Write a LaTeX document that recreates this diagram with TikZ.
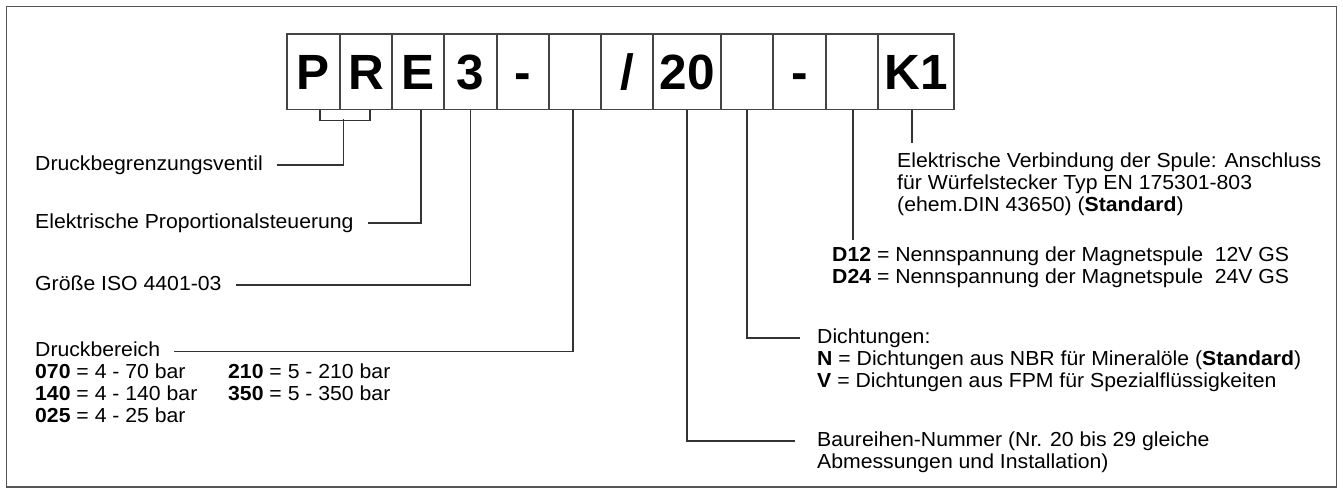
\documentclass[tikz,border=0pt]{standalone}
\usepackage{fontspec}
\setmainfont{Liberation Sans}
\newfontfamily\lblfont{Liberation Sans}[FakeStretch=1.045]
\definecolor{lnc}{HTML}{333333}
\definecolor{framec}{HTML}{555555}
\definecolor{boxc}{HTML}{444444}
\begin{document}
\begin{tikzpicture}[x=1pt,y=-1pt,
  cell/.style={draw=boxc, line width=1.3pt, minimum height=75.5pt, inner sep=0pt,
    text height=35.5pt, text depth=0pt, font=\bfseries\fontsize{49.5}{49.5}\selectfont},
  lbl/.style={anchor=base west, inner sep=0pt, text height=10pt, text depth=0pt,
    font=\lblfont\fontsize{20.3}{22}\selectfont},
  conn/.style={draw=lnc, line width=1.2pt}]
\useasboundingbox (0,0) rectangle (1343,492);
\draw[framec, line width=1.3pt] (6.5,6.5) rectangle (1336.5,487);
% code boxes
\node[cell, minimum width=53pt] (b1)  at (313.5,71.75) {P};
\node[cell, minimum width=52pt] (b2)  at (366,71.75) {R};
\node[cell, minimum width=52pt] (b3)  at (418,71.75) {E};
\node[cell, minimum width=53pt] (b4)  at (470.5,71.75) {3};
\node[cell, minimum width=52pt] (b5)  at (523,71.75) {-};
\node[cell, minimum width=52pt] (b6)  at (575,71.75) {};
\node[cell, minimum width=52pt] (b7)  at (627,71.75) {/};
\node[cell, minimum width=68pt] (b8)  at (687,71.75) {20};
\node[cell, minimum width=52pt] (b9)  at (747,71.75) {};
\node[cell, minimum width=53pt] (b10) at (799.5,71.75) {-};
\node[cell, minimum width=52pt] (b11) at (852,71.75) {};
\node[cell, minimum width=76pt] (b12) at (916,71.75) {K1};
% left labels
\node[lbl] (t1) at (35,170) {Druckbegrenzungsventil};
\node[lbl] (t2) at (35,228) {Elektrische Proportionalsteuerung};
\node[lbl] (t3) at (35,290) {Größe ISO 4401-03};
\node[lbl] (t4) at (35,356.5) {Druckbereich};
\node[lbl] (r1a) at (35,378.5) {\textbf{070} = 4 - 70 bar};
\node[lbl] (r1b) at (228,378.5) {\textbf{210} = 5 - 210 bar};
\node[lbl] (r2a) at (35,400.5) {\textbf{140} = 4 - 140 bar};
\node[lbl] (r2b) at (228,400.5) {\textbf{350} = 5 - 350 bar};
\node[lbl] (r3) at (35,422.5) {\textbf{025} = 4 - 25 bar};
% right labels
\node[lbl] (k1) at (897,167.5) {Elektrische Verbindung der Spule: Anschluss};
\node[lbl] (k2) at (897,189.5) {für Würfelstecker Typ EN 175301-803};
\node[lbl] (k3) at (897,211.5) {(ehem.DIN 43650) (\textbf{Standard})};
\node[lbl] (d1) at (832,261.5) {\textbf{D12} = Nennspannung der Magnetspule\ \ 12V GS};
\node[lbl] (d2) at (832,283.5) {\textbf{D24} = Nennspannung der Magnetspule\ \ 24V GS};
\node[lbl] (s1) at (817,343) {Dichtungen:};
\node[lbl] (s2) at (817,365) {\textbf{N} = Dichtungen aus NBR für Mineralöle (\textbf{Standard})};
\node[lbl] (s3) at (817,387.5) {\textbf{V} = Dichtungen aus FPM für Spezialflüssigkeiten};
\node[lbl] (u1) at (817,446) {Baureihen-Nummer (Nr. 20 bis 29 gleiche};
\node[lbl] (u2) at (817,468) {Abmessungen und Installation)};
% connectors
\coordinate (brk) at (343.3,119.5);
\draw[conn] ([xshift=6.5pt]b1.south) -- ++(0,10) -| ([xshift=4pt]b2.south);
\draw[conn] (brk) |- ([xshift=14pt]t1.east);
\draw[conn] ([xshift=3pt]b3.south) |- ([xshift=14pt]t2.east);
\draw[conn] (b4.south) |- ([xshift=14pt]t3.east);
\draw[conn] ([xshift=-2pt]b6.south) |- ([xshift=14pt]t4.east);
\draw[conn] (b8.south) |- ([xshift=-22pt]u1.west);
\draw[conn] (b9.south) |- ([xshift=-17pt]s1.west);
\coordinate (e11) at (853,240);
\draw[conn] (b11.south -| e11) -- (e11);
\coordinate (e12) at (912,143);
\draw[conn] (b12.south -| e12) -- (e12);
\end{tikzpicture}
\end{document}
